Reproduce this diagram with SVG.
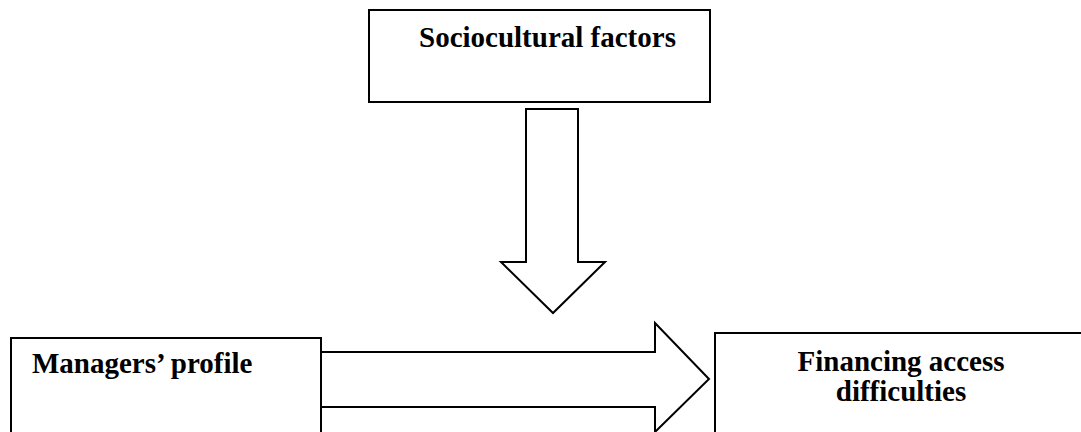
<svg xmlns="http://www.w3.org/2000/svg" width="1081" height="432" viewBox="0 0 1081 432">
<style>
.box{fill:#fff;stroke:#000;stroke-width:2}
.arr{fill:#fff;stroke:#000;stroke-width:2;stroke-linejoin:miter}
text{font-family:"Liberation Serif","Times New Roman",serif;font-weight:bold;font-size:29px;fill:#000}
</style>
<rect width="1081" height="432" fill="#fff"/>
<g id="sociocultural">
<rect class="box" x="369" y="10" width="341" height="92"/>
<text x="419" y="47">Sociocultural factors</text>
</g>
<g id="managers">
<rect class="box" x="11" y="338" width="310" height="110"/>
<text x="32" y="373">Managers’ profile</text>
</g>
<g id="financing">
<rect class="box" x="715" y="333" width="380" height="110"/>
<text x="901" y="371" text-anchor="middle">Financing access</text>
<text x="901" y="401" text-anchor="middle">difficulties</text>
</g>
<g id="connectors">
<polygon class="arr" points="526,109 578,109 578,262 605,262 553,313 501,262 526,262"/>
<polygon class="arr" points="321,352 655,352 655,323 709,379 655,432 655,407 321,407"/>
</g>
</svg>
